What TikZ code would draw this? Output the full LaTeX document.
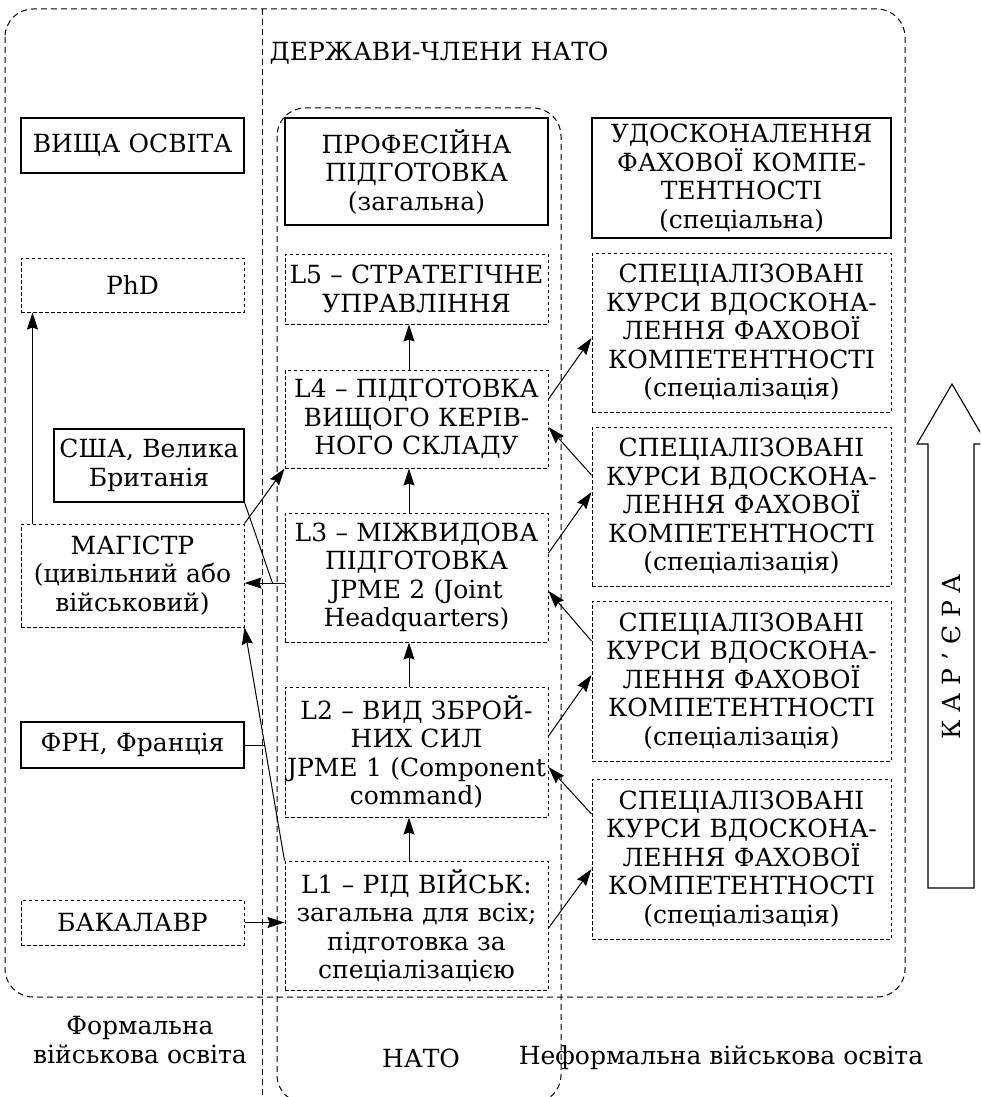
\documentclass[tikz,border=0pt]{standalone}
\usepackage{fontspec}
\setmainfont{DejaVu Serif}
\usetikzlibrary{positioning,arrows.meta}

\begin{document}
\begin{tikzpicture}[x=1pt,y=-1pt,
    font=\fontsize{25}{28.5}\selectfont,
    solidbox/.style={draw,line width=1.1pt,align=center,inner sep=1pt},
    dashbox/.style={solidbox,line width=1pt,dash pattern=on 3.5pt off 2.5pt},
    leftcol/.style={text width=221pt},
    midcol/.style={text width=261pt},
    rightcol/.style={text width=297pt},
    region/.style={draw,line width=1pt,dash pattern=on 6pt off 4pt,rounded corners=28pt},
    arr/.style={line width=1pt,-{Stealth[length=17pt,width=11pt,inset=2pt]}},
    node distance=44pt]
    \useasboundingbox (0,0) rectangle (980,1097);
    \clip (0,0) rectangle (980,1097);

    % areas
    \draw[region] (5,9) rectangle (905,997);
    \draw[region] (262,9) -- (262,1097);
    \draw[region] (277,108) rectangle (561,1103);

    % formal education
    \node[solidbox,leftcol,minimum height=55pt] (higher) at (132.5,145.5) {ВИЩА ОСВІТА};
    \node[dashbox,leftcol,minimum height=54pt] (phd) at (132.5,285) {PhD};
    \node[solidbox,text width=188pt,minimum height=73pt] (usa) at (149,465.5) {США, Велика\\Британія};
    \node[dashbox,leftcol,minimum height=103pt] (master) at (132.5,575.5) {МАГІСТР\\(цивільний або\\військовий)};
    \node[solidbox,leftcol,minimum height=46pt] (frg) at (132.5,745) {ФРН, Франція};
    \node[dashbox,leftcol,minimum height=45pt] (bachelor) at (132.5,922.5) {БАКАЛАВР};

    % NATO levels
    \node[solidbox,midcol,minimum height=107pt] (prof) at (416.5,171.5) {ПРОФЕСІЙНА\\ПІДГОТОВКА\\(загальна)};
    \node[dashbox,midcol,minimum height=70pt] (L5) [below=28pt of prof] {L5 – СТРАТЕГІЧНЕ\\УПРАВЛІННЯ};
    \node[dashbox,midcol,minimum height=98pt] (L4) [below=45pt of L5] {L4 – ПІДГОТОВКА\\ВИЩОГО КЕРІВ-\\НОГО СКЛАДУ};
    \node[dashbox,midcol,minimum height=129pt] (L3) [below=of L4] {L3 – МІЖВИДОВА\\ПІДГОТОВКА\\JPME 2 (Joint\\Headquarters)};
    \node[dashbox,midcol,minimum height=130pt] (L2) [below=of L3] {L2 – ВИД ЗБРОЙ-\\НИХ СИЛ\\JPME 1 (Component\\command)};
    \node[dashbox,midcol,minimum height=129pt] (L1) [below=43pt of L2] {L1 – РІД ВІЙСЬК:\\загальна для всіх;\\підготовка за\\спеціалізацією};

    % informal education
    \node[solidbox,rightcol,minimum height=120pt] (skill) at (741.5,178) {УДОСКОНАЛЕННЯ\\ФАХОВОЇ КОМПЕ-\\ТЕНТНОСТІ\\(спеціальна)};
    \node[dashbox,rightcol,minimum height=159pt] (S1) [below=14pt of skill] {СПЕЦІАЛІЗОВАНІ\\КУРСИ ВДОСКОНА-\\ЛЕННЯ ФАХОВОЇ\\КОМПЕТЕНТНОСТІ\\(спеціалізація)};
    \node[dashbox,rightcol,minimum height=159pt] (S2) [below=14pt of S1] {СПЕЦІАЛІЗОВАНІ\\КУРСИ ВДОСКОНА-\\ЛЕННЯ ФАХОВОЇ\\КОМПЕТЕНТНОСТІ\\(спеціалізація)};
    \node[dashbox,rightcol,minimum height=160pt] (S3) [below=14pt of S2] {СПЕЦІАЛІЗОВАНІ\\КУРСИ ВДОСКОНА-\\ЛЕННЯ ФАХОВОЇ\\КОМПЕТЕНТНОСТІ\\(спеціалізація)};
    \node[dashbox,rightcol,minimum height=160pt] (S4) [below=17pt of S3] {СПЕЦІАЛІЗОВАНІ\\КУРСИ ВДОСКОНА-\\ЛЕННЯ ФАХОВОЇ\\КОМПЕТЕНТНОСТІ\\(спеціалізація)};

    % captions
    \node[anchor=west] (members) at (266,53) {ДЕРЖАВИ-ЧЛЕНИ НАТО};
    \node[align=center] (formal) at (140,1040) {Формальна\\військова освіта};
    \node (nato) at (421,1058) {НАТО};
    \node (informal) at (721,1058) {Неформальна військова освіта};

    % career arrow
    \draw[line width=1.1pt] (928,888) -- (928,444) -- (917,444) -- (952,384)
        -- (987,444) -- (974,444) -- (974,888) -- cycle;
    \node[rotate=90] (career) at (951,657) {К А Р ’ Є Р А};

    % links
    \draw[arr] ([xshift=12pt]master.north west) -- ([xshift=12pt]phd.south west);
    \draw[arr] ([xshift=-7.5pt]L4.north) -- ([xshift=-7.5pt]L5.south);
    \draw[arr] ([xshift=-7.5pt]L3.north) -- ([xshift=-7.5pt]L4.south);
    \draw[arr] ([xshift=-7.5pt]L2.north) -- ([xshift=-7.5pt]L3.south);
    \draw[arr] ([xshift=-7.5pt]L1.north) -- ([xshift=-7.5pt]L2.south);
    \draw[arr] (master.north east) -- (L4.south west);
    \coordinate (usajoin) at ([xshift=-12pt,yshift=-5.5pt]L3.west);
    \draw[arr] ([yshift=-5.5pt]L3.west) -- ([yshift=-5.5pt]L3.west -| master.east);
    \draw[line width=1pt] (usa.south east) -- (usajoin);
    \draw[arr] (L1.north west) -- (master.south east) coordinate[pos=0.485] (frgjoin);
    \draw[line width=1pt] (frg.east) -- (frg.east -| frgjoin);
    \draw[arr] (bachelor.east) -- (bachelor.east -| L1.west);

    \draw[arr] ([yshift=20pt]L4.east) -- ([yshift=-5.5pt]S1.west);
    \draw[arr] ([yshift=31.5pt]S2.west) -- ([yshift=-8pt]L4.east);
    \draw[arr] ([yshift=24.5pt]L3.east) -- ([yshift=14.5pt]S2.west);
    \draw[arr] ([yshift=40pt]S3.west) -- ([yshift=-13.5pt]L3.east);
    \draw[arr] ([yshift=16pt]L2.east) -- ([yshift=6pt]S3.west);
    \draw[arr] ([yshift=45pt]S4.west) -- ([yshift=-15pt]L2.east);
    \draw[arr] ([yshift=-2.5pt]L1.east) -- ([yshift=-10pt]S4.west);
\end{tikzpicture}
\end{document}
